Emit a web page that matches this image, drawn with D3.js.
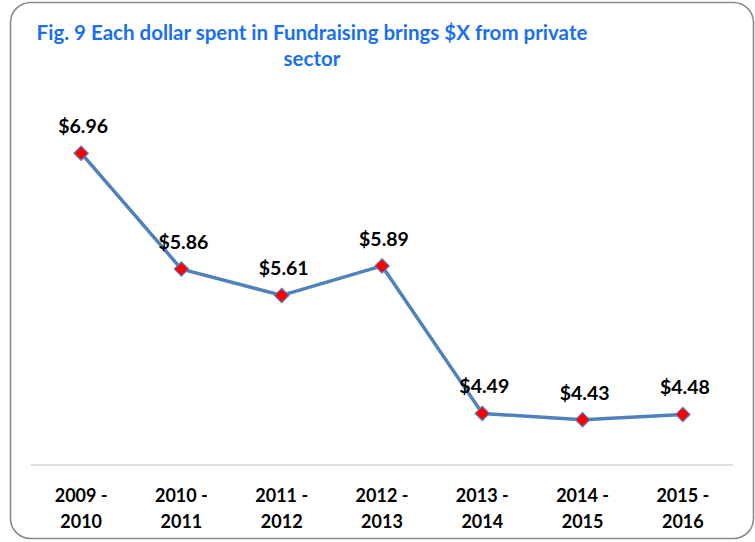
<!DOCTYPE html>
<html>
<head>
<meta charset="utf-8">
<script src="https://cdn.jsdelivr.net/npm/d3@7"></script>
<style>
  html, body { margin: 0; padding: 0; background: #fff; }
</style>
</head>
<body>
<div id="chart"></div>
<script>
const periods = ["2009 - 2010", "2010 - 2011", "2011 - 2012", "2012 - 2013", "2013 - 2014", "2014 - 2015", "2015 - 2016"];
const returns = [6.96, 5.86, 5.61, 5.89, 4.49, 4.43, 4.48];
const yDomain = [4, 7];
const titleLines = ["Fig. 9 Each dollar spent in Fundraising brings $X from private", "sector"];

const width = 755;
const height = 542;
const fontFamily = "Lato, 'Open Sans', sans-serif";

const lineColor = "#4F81BD";
const markerFill = "#FF0000";
const titleColor = "#1A6FF0";
const axisColor = "#BFBFBF";

const svg = d3.select("#chart")
  .append("svg")
  .attr("width", width)
  .attr("height", height)
  .style("font-family", fontFamily);

// chart frame, runs off the right/bottom edge a little
svg.append("rect")
  .attr("x", 10.5)
  .attr("y", 2.5)
  .attr("width", 743)
  .attr("height", 536)
  .attr("rx", 20)
  .attr("fill", "#fff")
  .attr("stroke", "#8a8a8a")
  .attr("stroke-width", 1.6);

const title = svg.append("text")
  .attr("text-anchor", "middle")
  .attr("font-size", "20.5px")
  .attr("font-weight", "700")
  .attr("fill", titleColor);

titleLines.forEach((t, i) => {
  title.append("tspan")
    .attr("x", 312)
    .attr("y", 40 + i * 26)
    .text(t);
});

const x = d3.scaleBand()
  .domain(periods)
  .range([31, 733]);

const y = d3.scaleLinear()
  .domain(yDomain)
  .range([465, 149]);

const cx = d => x(d) + x.bandwidth() / 2;

// category axis
svg.append("line")
  .attr("x1", x.range()[0])
  .attr("x2", x.range()[1])
  .attr("y1", y(yDomain[0]))
  .attr("y2", y(yDomain[0]))
  .attr("stroke", axisColor)
  .attr("stroke-width", 1.2);

periods.forEach(p => {
  const parts = p.split(" - ");
  const t = svg.append("text")
    .attr("text-anchor", "middle")
    .attr("font-size", "18px")
    .attr("font-weight", "700")
    .attr("fill", "#000");
  t.append("tspan").attr("x", cx(p)).attr("y", 502).text(parts[0] + " -");
  t.append("tspan").attr("x", cx(p)).attr("y", 528).text(parts[1]);
});

const data = periods.map((p, i) => ({ period: p, value: returns[i] }));

svg.append("path")
  .datum(data)
  .attr("fill", "none")
  .attr("stroke", lineColor)
  .attr("stroke-width", 3.5)
  .attr("stroke-linejoin", "round")
  .attr("d", d3.line().x(d => cx(d.period)).y(d => y(d.value)));

svg.selectAll(".marker")
  .data(data)
  .join("path")
  .attr("class", "marker")
  .attr("transform", d => `translate(${cx(d.period)},${y(d.value)})`)
  .attr("d", d3.symbol(d3.symbolDiamond2, 130))
  .attr("fill", markerFill)
  .attr("stroke", lineColor)
  .attr("stroke-width", 1.2);

svg.selectAll(".value-label")
  .data(data)
  .join("text")
  .attr("class", "value-label")
  .attr("x", d => cx(d.period) + 2)
  .attr("y", d => y(d.value) - 20)
  .attr("text-anchor", "middle")
  .attr("font-size", "19.5px")
  .attr("font-weight", "700")
  .attr("fill", "#000")
  .text(d => "$" + d3.format(".2f")(d.value));
</script>
</body>
</html>
